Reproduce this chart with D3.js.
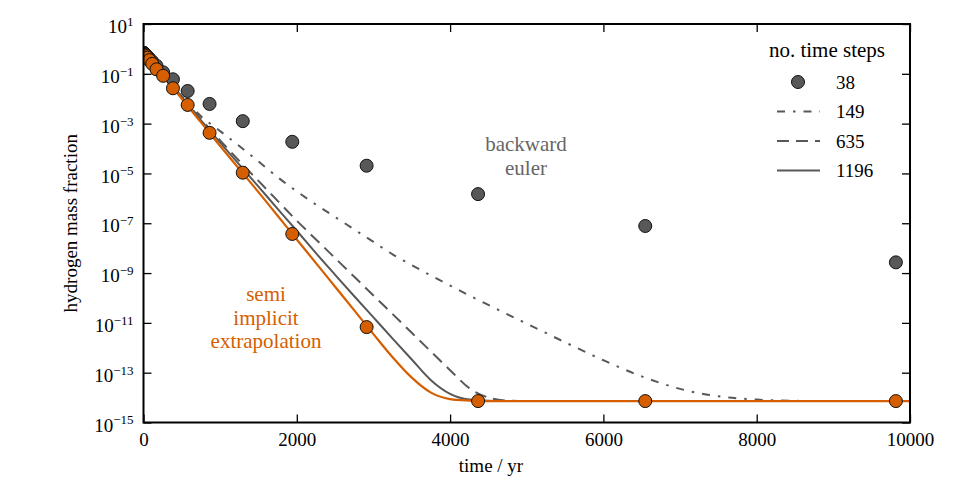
<!DOCTYPE html>
<html>
<head>
<meta charset="utf-8">
<script src="https://cdn.jsdelivr.net/npm/d3@7"></script>
<style>
  body { margin: 0; background: #fff; }
  text { font-family: "Liberation Serif", "DejaVu Serif", serif; }
</style>
</head>
<body>
<svg id="chart" width="958" height="497"></svg>
<script>
// values are log10 of the hydrogen mass fraction

// 38-step run: times of the steps that fall inside the x range
var stepTimes = [0, 10, 15, 22, 34, 50, 76, 114, 170, 256, 384, 576, 862, 1295, 1941, 2911, 4365, 6546, 9816];
var eulerSteps38 = [-0.155, -0.18, -0.2, -0.22, -0.26, -0.31, -0.39, -0.51, -0.68, -0.94, -1.22, -1.69, -2.21, -2.9, -3.73, -4.69, -5.83, -7.11, -8.57];
var semiSteps38 = [-0.155, -0.19, -0.21, -0.24, -0.29, -0.35, -0.45, -0.6, -0.82, -1.08, -1.58, -2.25, -3.37, -4.97, -7.43, -11.17, -14.14, -14.14, -14.14];

// finer runs, sampled along the curves
var curveTimes = [0, 250, 500, 750, 1000, 1250, 1500, 1750, 2000, 2250, 2500, 2750, 3000, 3250, 3500, 3750,
                  4000, 4250, 4500, 4750, 5000, 5500, 6000, 6500, 7000, 7500, 8000, 8500, 9000, 10000];
var euler149 = [-0.155, -1.03, -1.9, -2.7, -3.3, -3.9, -4.52, -5.15, -5.72, -6.25, -6.75, -7.25, -7.75, -8.25, -8.68, -9.1,
                -9.5, -9.9, -10.28, -10.66, -11.03, -11.78, -12.5, -13.15, -13.65, -13.95, -14.08, -14.13, -14.14, -14.14];
var euler635 = [-0.155, -1.06, -1.95, -2.82, -3.67, -4.5, -5.3, -6.1, -6.9, -7.65, -8.4, -9.15, -9.9, -10.65, -11.4, -12.15,
                -12.9, -13.62, -14.0, -14.12, -14.14, -14.14, -14.14, -14.14, -14.14, -14.14, -14.14, -14.14, -14.14, -14.14];
var euler1196 = [-0.155, -1.06, -1.96, -2.87, -3.76, -4.65, -5.53, -6.42, -7.3, -8.2, -9.07, -9.93, -10.78, -11.63, -12.47, -13.3,
                 -13.85, -14.08, -14.13, -14.14, -14.14, -14.14, -14.14, -14.14, -14.14, -14.14, -14.14, -14.14, -14.14, -14.14];
var semiCurve = [-0.155, -1.08, -2.0, -2.95, -3.9, -4.82, -5.75, -6.7, -7.65, -8.6, -9.55, -10.5, -11.45, -12.38, -13.2, -13.8,
                 -14.06, -14.12, -14.14, -14.14, -14.14, -14.14, -14.14, -14.14, -14.14, -14.14, -14.14, -14.14, -14.14, -14.14];

var xTicks = [0, 2000, 4000, 6000, 8000, 10000];
var yTickPowers = [1, -1, -3, -5, -7, -9, -11, -13, -15];
var legendLabels = ["38", "149", "635", "1196"];

var ORANGE = "#d55e00";
var GREY = "#585858";

var plotLeft = 143.5, plotRight = 910, plotTop = 24, plotBottom = 422.5;

var svg = d3.select("#chart");
svg.append("rect").attr("width", 958).attr("height", 497).attr("fill", "#fff");

var x = d3.scaleLinear().domain([0, 10000]).range([plotLeft, plotRight]);
var y = d3.scaleLog().domain([1e-15, 10]).range([plotBottom, plotTop]);

svg.append("clipPath").attr("id", "plotclip")
    .append("rect")
    .attr("x", plotLeft).attr("y", plotTop)
    .attr("width", plotRight - plotLeft).attr("height", plotBottom - plotTop);

var plot = svg.append("g").attr("clip-path", "url(#plotclip)");

function pts(times, logs){
    return times.map(function(t, i){ return {t: t, v: Math.pow(10, logs[i])}; });
}

var line = d3.line()
    .x(function(d){ return x(d.t); })
    .y(function(d){ return y(d.v); })
    .curve(d3.curveMonotoneX);

var styles = {
    dashdot: "8,8,2.5,8",
    dashed: "12,7"
};

plot.append("path").datum(pts(curveTimes, euler149))
    .attr("d", line).attr("fill", "none")
    .attr("stroke", GREY).attr("stroke-width", 2)
    .attr("stroke-dasharray", styles.dashdot);
plot.append("path").datum(pts(curveTimes, euler635))
    .attr("d", line).attr("fill", "none")
    .attr("stroke", GREY).attr("stroke-width", 2)
    .attr("stroke-dasharray", styles.dashed);
plot.append("path").datum(pts(curveTimes, euler1196))
    .attr("d", line).attr("fill", "none")
    .attr("stroke", GREY).attr("stroke-width", 2);

// semi implicit: all step counts lie on top of each other
plot.append("path").datum(pts(curveTimes, semiCurve))
    .attr("d", line).attr("fill", "none")
    .attr("stroke", ORANGE).attr("stroke-width", 2.2);

plot.selectAll("circle.euler")
    .data(pts(stepTimes, eulerSteps38))
    .enter().append("circle")
    .attr("class", "euler")
    .attr("cx", function(d){ return x(d.t); })
    .attr("cy", function(d){ return y(d.v); })
    .attr("r", 6.5)
    .attr("fill", GREY).attr("stroke", "#111").attr("stroke-width", 1);

plot.selectAll("circle.semi")
    .data(pts(stepTimes, semiSteps38))
    .enter().append("circle")
    .attr("class", "semi")
    .attr("cx", function(d){ return x(d.t); })
    .attr("cy", function(d){ return y(d.v); })
    .attr("r", 6.5)
    .attr("fill", ORANGE).attr("stroke", "#111").attr("stroke-width", 1);

// axes, ticks pointing inward
var yTickValues = yTickPowers.map(function(p){ return Math.pow(10, p); });

var xAxis = svg.append("g").attr("transform", "translate(0," + plotBottom + ")")
    .call(d3.axisBottom(x).tickValues(xTicks).tickSize(-8).tickPadding(10)
        .tickFormat(function(d){ return d3.format("d")(d); }));
svg.append("g").attr("transform", "translate(0," + plotTop + ")")
    .call(d3.axisTop(x).tickValues(xTicks).tickSize(-8).tickFormat(""));

var yAxis = svg.append("g").attr("transform", "translate(" + plotLeft + ",0)")
    .call(d3.axisLeft(y).tickValues(yTickValues).tickSize(-8).tickPadding(10)
        .tickFormat(function(){ return ""; }));
svg.append("g").attr("transform", "translate(" + plotRight + ",0)")
    .call(d3.axisRight(y).tickValues(yTickValues).tickSize(-8).tickFormat(""));

svg.selectAll(".domain").remove();
svg.selectAll(".tick line").attr("stroke", "#000").attr("stroke-width", 1.3);

xAxis.selectAll("text")
    .attr("font-size", 19).attr("fill", "#000")
    .attr("font-family", "Liberation Serif, serif");

yAxis.selectAll(".tick text").each(function(d){
    var p = Math.round(Math.log10(d));
    var t = d3.select(this)
        .attr("font-size", 19).attr("fill", "#000")
        .attr("font-family", "Liberation Serif, serif")
        .attr("dy", "0.45em");
    t.append("tspan").text("10");
    t.append("tspan").attr("dy", "-0.55em").attr("font-size", 13)
        .text(String(p).replace("-", "\u2212"));
});

svg.append("rect")
    .attr("x", plotLeft).attr("y", plotTop)
    .attr("width", plotRight - plotLeft).attr("height", plotBottom - plotTop)
    .attr("fill", "none").attr("stroke", "#000").attr("stroke-width", 2);

// axis labels
svg.append("text")
    .attr("x", 491).attr("y", 472)
    .attr("text-anchor", "middle").attr("font-size", 19)
    .text("time / yr");
svg.append("text")
    .attr("transform", "translate(77," + ((plotTop + plotBottom) / 2) + ") rotate(-90)")
    .attr("text-anchor", "middle").attr("font-size", 19)
    .text("hydrogen mass fraction");

// annotations
var be = svg.append("text").attr("text-anchor", "middle")
    .attr("font-size", 21).attr("fill", "#666");
be.append("tspan").attr("x", 526).attr("y", 151).text("backward");
be.append("tspan").attr("x", 526).attr("y", 175).text("euler");

var si = svg.append("text").attr("text-anchor", "middle")
    .attr("font-size", 21).attr("fill", ORANGE);
si.append("tspan").attr("x", 266).attr("y", 301).text("semi");
si.append("tspan").attr("x", 266).attr("y", 324.5).text("implicit");
si.append("tspan").attr("x", 266).attr("y", 347.5).text("extrapolation");

// legend
var legend = svg.append("g");
legend.append("text")
    .attr("x", 827).attr("y", 57)
    .attr("text-anchor", "middle").attr("font-size", 21)
    .text("no. time steps");

var legendDash = [null, styles.dashdot, styles.dashed, null];
legendLabels.forEach(function(lab, i){
    var ly = 82 + i * 29.5;
    if(i == 0){
        legend.append("circle")
            .attr("cx", 798).attr("cy", ly).attr("r", 6.5)
            .attr("fill", GREY).attr("stroke", "#111").attr("stroke-width", 1);
    }else{
        legend.append("line")
            .attr("x1", 777).attr("x2", 820).attr("y1", ly).attr("y2", ly)
            .attr("stroke", GREY).attr("stroke-width", 2)
            .attr("stroke-dasharray", legendDash[i]);
    }
    legend.append("text")
        .attr("x", 836).attr("y", ly + 6.5)
        .attr("font-size", 19)
        .text(lab);
});
</script>
</body>
</html>
